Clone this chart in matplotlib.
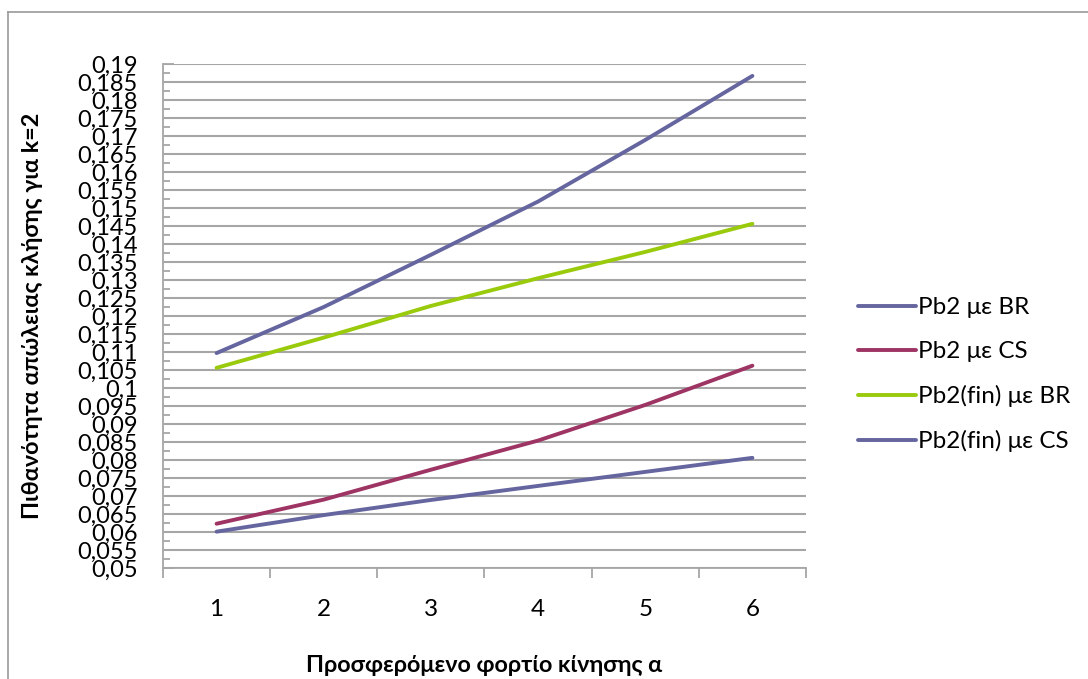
import matplotlib
matplotlib.use("Agg")
import matplotlib.pyplot as plt
from matplotlib.lines import Line2D
from matplotlib.ticker import FixedLocator, FuncFormatter, MultipleLocator

plt.rcParams['font.family'] = ['Lato', 'Noto Sans', 'DejaVu Sans']

# Offered traffic load (categories on the x axis)
loads = [1, 2, 3, 4, 5, 6]

# Call loss probability for k=2
pb2_br = [0.1097, 0.1225, 0.1370, 0.1518, 0.1689, 0.1867]
pb2_cs = [0.0623, 0.0690, 0.0773, 0.0854, 0.0953, 0.1062]
pb2fin_br = [0.1056, 0.1140, 0.1228, 0.1305, 0.1378, 0.1456]
pb2fin_cs = [0.0601, 0.0647, 0.0689, 0.0728, 0.0767, 0.0806]

series_labels = ["Pb2 με BR", "Pb2 με CS", "Pb2(fin) με BR", "Pb2(fin) με CS"]
series_colors = ["#65659F", "#9E3463", "#9ACA0C", "#65659F"]

y_label = "Πιθανότητα απώλειας κλήσης για k=2"
x_label = "Προσφερόμενο φορτίο κίνησης α"

W, H = 1088, 679
fig = plt.figure(figsize=(W / 100, H / 100), dpi=100)
fig.patch.set_facecolor("white")

# Chart area border (top and left edges)
fig.add_artist(Line2D([8 / W, 8 / W], [0, 1 - 12 / H], transform=fig.transFigure,
                      color="#9A9A9A", lw=1.2))
fig.add_artist(Line2D([8 / W, 1], [1 - 12 / H, 1 - 12 / H], transform=fig.transFigure,
                      color="#9A9A9A", lw=1.2))

left, right, top, bottom = 163, 806, 64, 568
ax = fig.add_axes([left / W, 1 - bottom / H, (right - left) / W, (bottom - top) / H])

for vals, lab, col in zip([pb2_br, pb2_cs, pb2fin_br, pb2fin_cs], series_labels, series_colors):
    ax.plot(loads, vals, color=col, lw=2.8, label=lab, solid_capstyle="round", zorder=3)

ax.set_xlim(0.5, 6.5)
ax.set_ylim(0.05, 0.19)

grid_col = "#A6A6A6"
ax.yaxis.set_major_locator(MultipleLocator(0.005))
ax.yaxis.set_minor_locator(MultipleLocator(0.0025))
ax.yaxis.grid(True, which="major", color=grid_col, lw=1.5, zorder=1)
ax.set_axisbelow(True)


def comma_fmt(v, pos):
    s = f"{v:.3f}".rstrip("0").rstrip(".")
    return s.replace(".", ",")


ax.yaxis.set_major_formatter(FuncFormatter(comma_fmt))
ax.tick_params(axis="y", which="major", direction="in", length=8, width=1.3,
               color=grid_col, labelsize=17, pad=18)
ax.tick_params(axis="y", which="minor", direction="in", length=5, width=1.3,
               color=grid_col)

# Category axis: ticks on the boundaries, labels in the middle
ax.xaxis.set_major_locator(FixedLocator([0.5, 1.5, 2.5, 3.5, 4.5, 5.5, 6.5]))
ax.xaxis.set_major_formatter(FuncFormatter(lambda v, p: ""))
ax.xaxis.set_minor_locator(FixedLocator(loads))
ax.xaxis.set_minor_formatter(FuncFormatter(lambda v, p: f"{int(round(v))}"))
ax.tick_params(axis="x", which="major", direction="out", length=7, width=1.3, color=grid_col)
ax.tick_params(axis="x", which="minor", length=0, labelsize=17.5, pad=22)

for side in ["top", "right"]:
    ax.spines[side].set_visible(False)
for side in ["left", "bottom"]:
    ax.spines[side].set_color(grid_col)
    ax.spines[side].set_linewidth(1.3)

fig.text((left + right) / 2 / W, 1 - 665 / H, x_label, ha="center", va="center",
         fontsize=16.8, fontweight="bold")
fig.text(33 / W, 1 - (top + bottom) / 2 / H, y_label, ha="center", va="center",
         rotation=90, fontsize=16.8, fontweight="bold")

fig.legend(loc="upper left", bbox_to_anchor=(858 / W, 1 - 297 / H), frameon=False,
           fontsize=17.5, handlelength=2.4, handletextpad=0.08, labelspacing=0.95,
           borderpad=0, borderaxespad=0)

fig.savefig("out.png", dpi=100, facecolor="white")
